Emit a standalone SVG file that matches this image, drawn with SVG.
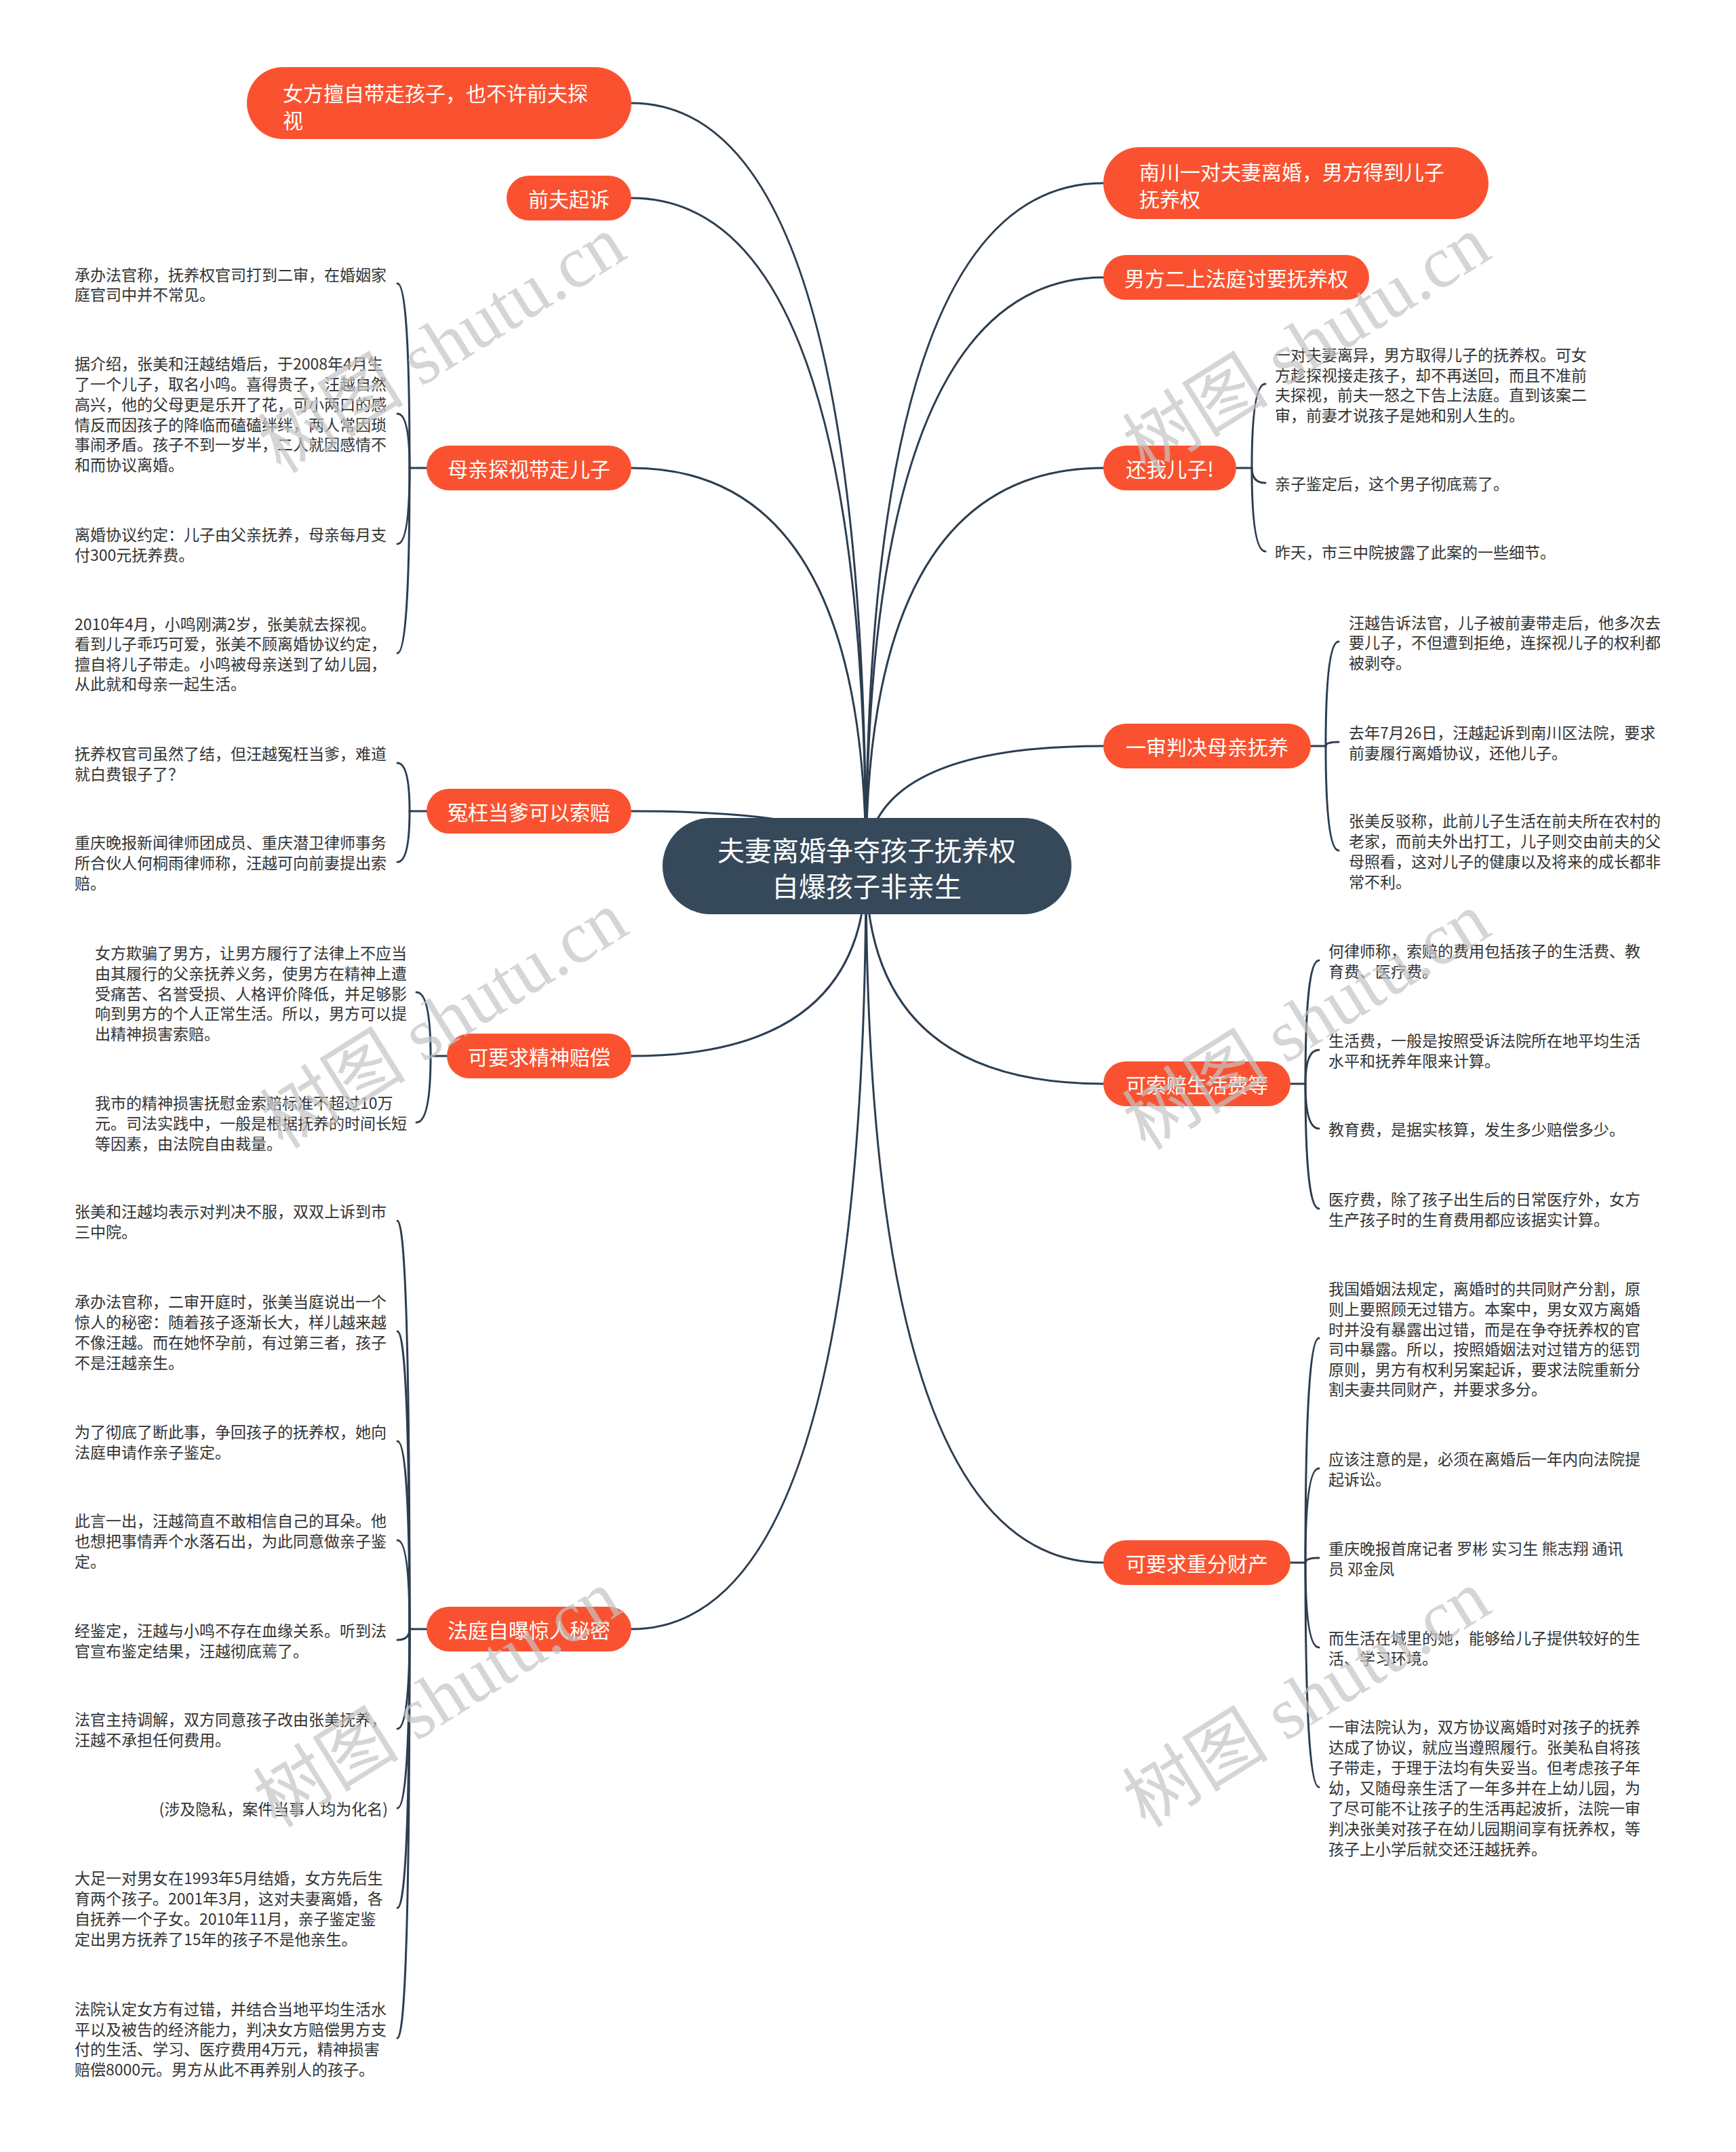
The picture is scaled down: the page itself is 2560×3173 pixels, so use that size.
<svg xmlns="http://www.w3.org/2000/svg" width="2560" height="3173" viewBox="0 0 2560 3173">
<style>
.bg{fill:#ffffff}
.main{fill:#36495a}
.topic{fill:#fa5230}
.mt{font-family:"Noto Sans CJK SC","Noto Sans",sans-serif;font-size:40px;fill:#ffffff;text-anchor:middle;dominant-baseline:central}
.tt{font-family:"Noto Sans CJK SC","Noto Sans",sans-serif;font-size:30px;fill:#ffffff;dominant-baseline:central}
.tc{text-anchor:middle}
.lf{font-family:"Noto Sans CJK SC","Noto Sans",sans-serif;font-size:23px;fill:#333333;dominant-baseline:central}
.ln{fill:none;stroke:#2c3e50;stroke-width:3;stroke-linecap:round}
.wm{font-family:"Liberation Serif","Noto Sans CJK SC",serif;font-size:108px;fill:#c4c4c4;opacity:0.7;text-anchor:middle;dominant-baseline:central}
</style>
<rect class="bg" x="0" y="0" width="2560" height="3173"/>
<g id="connectors">
<path class="ln" d="M1277 1277 Q1277 152 931 152"/>
<path class="ln" d="M1277 1277 Q1277 292 931 292"/>
<path class="ln" d="M1277 1277 Q1277 690 931 690"/>
<path class="ln" d="M1277 1277 Q1277 1196 931 1196"/>
<path class="ln" d="M1277 1277 Q1277 1557 931 1557"/>
<path class="ln" d="M1277 1277 Q1277 2402 931 2402"/>
<path class="ln" d="M1277 1277 Q1277 270 1627 270"/>
<path class="ln" d="M1277 1277 Q1277 409 1627 409"/>
<path class="ln" d="M1277 1277 Q1277 690 1627 690"/>
<path class="ln" d="M1277 1277 Q1277 1100 1627 1100"/>
<path class="ln" d="M1277 1277 Q1277 1598 1627 1598"/>
<path class="ln" d="M1277 1277 Q1277 2304 1627 2304"/>
<!-- L3 braces -->
<path class="ln" d="M629 690 H604"/>
<path class="ln" d="M604 690 Q604 418 586 418"/>
<path class="ln" d="M604 690 Q604 610 586 610"/>
<path class="ln" d="M604 690 Q604 802 586 802"/>
<path class="ln" d="M604 690 Q604 963 586 963"/>
<!-- L4 braces -->
<path class="ln" d="M629 1196 H604"/>
<path class="ln" d="M604 1196 Q604 1125 586 1125"/>
<path class="ln" d="M604 1196 Q604 1271 586 1271"/>
<!-- L5 braces -->
<path class="ln" d="M659 1557 H635"/>
<path class="ln" d="M635 1557 Q635 1463 614 1463"/>
<path class="ln" d="M635 1557 Q635 1655 614 1655"/>
<!-- L6 braces -->
<path class="ln" d="M629 2402 H604"/>
<path class="ln" d="M604 2402 Q604 1800 586 1800"/>
<path class="ln" d="M604 2402 Q604 1963 586 1963"/>
<path class="ln" d="M604 2402 Q604 2125 586 2125"/>
<path class="ln" d="M604 2402 Q604 2271 586 2271"/>
<path class="ln" d="M604 2402 Q604 2418 586 2418"/>
<path class="ln" d="M604 2402 Q604 2549 586 2549"/>
<path class="ln" d="M604 2402 Q604 2666 586 2666"/>
<path class="ln" d="M604 2402 Q604 2813 586 2813"/>
<path class="ln" d="M604 2402 Q604 3005 586 3005"/>
<!-- R3 braces -->
<path class="ln" d="M1823 690 H1846"/>
<path class="ln" d="M1846 690 Q1846 566 1866 566"/>
<path class="ln" d="M1846 690 Q1846 712 1866 712"/>
<path class="ln" d="M1846 690 Q1846 813 1866 813"/>
<!-- R4 braces -->
<path class="ln" d="M1933 1100 H1955"/>
<path class="ln" d="M1955 1100 Q1955 946 1974 946"/>
<path class="ln" d="M1955 1100 Q1955 1094 1974 1094"/>
<path class="ln" d="M1955 1100 Q1955 1254 1974 1254"/>
<!-- R5 braces -->
<path class="ln" d="M1903 1598 H1925"/>
<path class="ln" d="M1925 1598 Q1925 1416 1945 1416"/>
<path class="ln" d="M1925 1598 Q1925 1548 1945 1548"/>
<path class="ln" d="M1925 1598 Q1925 1664 1945 1664"/>
<path class="ln" d="M1925 1598 Q1925 1782 1945 1782"/>
<!-- R6 braces -->
<path class="ln" d="M1903 2304 H1925"/>
<path class="ln" d="M1925 2304 Q1925 1973 1945 1973"/>
<path class="ln" d="M1925 2304 Q1925 2165 1945 2165"/>
<path class="ln" d="M1925 2304 Q1925 2297 1945 2297"/>
<path class="ln" d="M1925 2304 Q1925 2429 1945 2429"/>
<path class="ln" d="M1925 2304 Q1925 2635 1945 2635"/>
</g>
<g id="center">
<rect class="main" x="977" y="1206" width="603" height="142" rx="71"/>
<text class="mt" x="1278"><tspan x="1278" y="1252">夫妻离婚争夺孩子抚养权</tspan><tspan x="1278" y="1305">自爆孩子非亲生</tspan></text>
</g>
<g id="n-l1">
<rect class="topic" x="364" y="99" width="567" height="106" rx="53"/>
<text class="tt"><tspan x="417" y="136">女方擅自带走孩子，也不许前夫探</tspan><tspan x="417" y="176">视</tspan></text>
</g>
<g id="n-l2">
<rect class="topic" x="747" y="259" width="184" height="66" rx="33"/>
<text class="tt tc" x="839" y="292">前夫起诉</text>
</g>
<g id="n-l3">
<rect class="topic" x="629" y="657" width="302" height="66" rx="33"/>
<text class="tt tc" x="780" y="690">母亲探视带走儿子</text>
</g>
<g id="n-l4">
<rect class="topic" x="629" y="1163" width="302" height="66" rx="33"/>
<text class="tt tc" x="780" y="1196">冤枉当爹可以索赔</text>
</g>
<g id="n-l5">
<rect class="topic" x="659" y="1524" width="272" height="66" rx="33"/>
<text class="tt tc" x="795" y="1557">可要求精神赔偿</text>
</g>
<g id="n-l6">
<rect class="topic" x="629" y="2369" width="302" height="66" rx="33"/>
<text class="tt tc" x="780" y="2402">法庭自曝惊人秘密</text>
</g>
<g id="n-r1">
<rect class="topic" x="1627" y="217" width="568" height="106" rx="53"/>
<text class="tt"><tspan x="1680" y="252">南川一对夫妻离婚，男方得到儿子</tspan><tspan x="1680" y="292">抚养权</tspan></text>
</g>
<g id="n-r2">
<rect class="topic" x="1627" y="376" width="392" height="66" rx="33"/>
<text class="tt tc" x="1823" y="409">男方二上法庭讨要抚养权</text>
</g>
<g id="n-r3">
<rect class="topic" x="1627" y="657" width="196" height="66" rx="33"/>
<text class="tt tc" x="1725" y="690">还我儿子!</text>
</g>
<g id="n-r4">
<rect class="topic" x="1627" y="1067" width="306" height="66" rx="33"/>
<text class="tt tc" x="1780" y="1100">一审判决母亲抚养</text>
</g>
<g id="n-r5">
<rect class="topic" x="1627" y="1565" width="276" height="66" rx="33"/>
<text class="tt tc" x="1765" y="1598">可索赔生活费等</text>
</g>
<g id="n-r6">
<rect class="topic" x="1627" y="2271" width="276" height="66" rx="33"/>
<text class="tt tc" x="1765" y="2304">可要求重分财产</text>
</g>
<g id="leaves-l3">
<text class="lf"><tspan x="110" y="404">承办法官称，抚养权官司打到二审，在婚姻家</tspan><tspan x="110" y="433">庭官司中并不常见。</tspan></text>
<text class="lf"><tspan x="110" y="535">据介绍，张美和汪越结婚后，于2008年4月生</tspan><tspan x="110" y="565">了一个儿子，取名小鸣。喜得贵子，汪越自然</tspan><tspan x="110" y="595">高兴，他的父母更是乐开了花，可小两口的感</tspan><tspan x="110" y="625">情反而因孩子的降临而磕磕绊绊，两人常因琐</tspan><tspan x="110" y="654">事闹矛盾。孩子不到一岁半，二人就因感情不</tspan><tspan x="110" y="684">和而协议离婚。</tspan></text>
<text class="lf"><tspan x="110" y="787">离婚协议约定：儿子由父亲抚养，母亲每月支</tspan><tspan x="110" y="817">付300元抚养费。</tspan></text>
<text class="lf"><tspan x="110" y="919">2010年4月，小鸣刚满2岁，张美就去探视。</tspan><tspan x="110" y="948">看到儿子乖巧可爱，张美不顾离婚协议约定，</tspan><tspan x="110" y="978">擅自将儿子带走。小鸣被母亲送到了幼儿园，</tspan><tspan x="110" y="1007">从此就和母亲一起生活。</tspan></text>
</g>
<g id="leaves-l4">
<text class="lf"><tspan x="110" y="1110">抚养权官司虽然了结，但汪越冤枉当爹，难道</tspan><tspan x="110" y="1140">就白费银子了？</tspan></text>
<text class="lf"><tspan x="110" y="1241">重庆晚报新闻律师团成员、重庆潜卫律师事务</tspan><tspan x="110" y="1271">所合伙人何桐雨律师称，汪越可向前妻提出索</tspan><tspan x="110" y="1301">赔。</tspan></text>
</g>
<g id="leaves-l5">
<text class="lf"><tspan x="140" y="1404">女方欺骗了男方，让男方履行了法律上不应当</tspan><tspan x="140" y="1434">由其履行的父亲抚养义务，使男方在精神上遭</tspan><tspan x="140" y="1464">受痛苦、名誉受损、人格评价降低，并足够影</tspan><tspan x="140" y="1493">响到男方的个人正常生活。所以，男方可以提</tspan><tspan x="140" y="1523">出精神损害索赔。</tspan></text>
<text class="lf"><tspan x="140" y="1625">我市的精神损害抚慰金索赔标准不超过10万</tspan><tspan x="140" y="1655">元。司法实践中，一般是根据抚养的时间长短</tspan><tspan x="140" y="1685">等因素，由法院自由裁量。</tspan></text>
</g>
<g id="leaves-l6">
<text class="lf"><tspan x="110" y="1785">张美和汪越均表示对判决不服，双双上诉到市</tspan><tspan x="110" y="1815">三中院。</tspan></text>
<text class="lf"><tspan x="110" y="1918">承办法官称，二审开庭时，张美当庭说出一个</tspan><tspan x="110" y="1948">惊人的秘密：随着孩子逐渐长大，样儿越来越</tspan><tspan x="110" y="1978">不像汪越。而在她怀孕前，有过第三者，孩子</tspan><tspan x="110" y="2008">不是汪越亲生。</tspan></text>
<text class="lf"><tspan x="110" y="2110">为了彻底了断此事，争回孩子的抚养权，她向</tspan><tspan x="110" y="2140">法庭申请作亲子鉴定。</tspan></text>
<text class="lf"><tspan x="110" y="2241">此言一出，汪越简直不敢相信自己的耳朵。他</tspan><tspan x="110" y="2271">也想把事情弄个水落石出，为此同意做亲子鉴</tspan><tspan x="110" y="2301">定。</tspan></text>
<text class="lf"><tspan x="110" y="2403">经鉴定，汪越与小鸣不存在血缘关系。听到法</tspan><tspan x="110" y="2433">官宣布鉴定结果，汪越彻底蔫了。</tspan></text>
<text class="lf"><tspan x="110" y="2534">法官主持调解，双方同意孩子改由张美抚养，</tspan><tspan x="110" y="2564">汪越不承担任何费用。</tspan></text>
<text class="lf" x="572" y="2666" text-anchor="end">(涉及隐私，案件当事人均为化名)</text>
<text class="lf"><tspan x="110" y="2768">大足一对男女在1993年5月结婚，女方先后生</tspan><tspan x="110" y="2798">育两个孩子。2001年3月，这对夫妻离婚，各</tspan><tspan x="110" y="2828">自抚养一个子女。2010年11月，亲子鉴定鉴</tspan><tspan x="110" y="2858">定出男方抚养了15年的孩子不是他亲生。</tspan></text>
<text class="lf"><tspan x="110" y="2961">法院认定女方有过错，并结合当地平均生活水</tspan><tspan x="110" y="2991">平以及被告的经济能力，判决女方赔偿男方支</tspan><tspan x="110" y="3020">付的生活、学习、医疗费用4万元，精神损害</tspan><tspan x="110" y="3050">赔偿8000元。男方从此不再养别人的孩子。</tspan></text>
</g>
<g id="leaves-r3">
<text class="lf"><tspan x="1880" y="522">一对夫妻离异，男方取得儿子的抚养权。可女</tspan><tspan x="1880" y="552">方趁探视接走孩子，却不再送回，而且不准前</tspan><tspan x="1880" y="581">夫探视，前夫一怒之下告上法庭。直到该案二</tspan><tspan x="1880" y="611">审，前妻才说孩子是她和别人生的。</tspan></text>
<text class="lf" x="1880" y="712">亲子鉴定后，这个男子彻底蔫了。</text>
<text class="lf" x="1880" y="813">昨天，市三中院披露了此案的一些细节。</text>
</g>
<g id="leaves-r4">
<text class="lf"><tspan x="1989" y="917">汪越告诉法官，儿子被前妻带走后，他多次去</tspan><tspan x="1989" y="946">要儿子，不但遭到拒绝，连探视儿子的权利都</tspan><tspan x="1989" y="976">被剥夺。</tspan></text>
<text class="lf"><tspan x="1989" y="1079">去年7月26日，汪越起诉到南川区法院，要求</tspan><tspan x="1989" y="1109">前妻履行离婚协议，还他儿子。</tspan></text>
<text class="lf"><tspan x="1989" y="1209">张美反驳称，此前儿子生活在前夫所在农村的</tspan><tspan x="1989" y="1239">老家，而前夫外出打工，儿子则交由前夫的父</tspan><tspan x="1989" y="1269">母照看，这对儿子的健康以及将来的成长都非</tspan><tspan x="1989" y="1299">常不利。</tspan></text>
</g>
<g id="leaves-r5">
<text class="lf"><tspan x="1959" y="1401">何律师称，索赔的费用包括孩子的生活费、教</tspan><tspan x="1959" y="1431">育费、医疗费。</tspan></text>
<text class="lf"><tspan x="1959" y="1533">生活费，一般是按照受诉法院所在地平均生活</tspan><tspan x="1959" y="1563">水平和抚养年限来计算。</tspan></text>
<text class="lf" x="1959" y="1664">教育费，是据实核算，发生多少赔偿多少。</text>
<text class="lf"><tspan x="1959" y="1767">医疗费，除了孩子出生后的日常医疗外，女方</tspan><tspan x="1959" y="1797">生产孩子时的生育费用都应该据实计算。</tspan></text>
</g>
<g id="leaves-r6">
<text class="lf"><tspan x="1959" y="1899">我国婚姻法规定，离婚时的共同财产分割，原</tspan><tspan x="1959" y="1929">则上要照顾无过错方。本案中，男女双方离婚</tspan><tspan x="1959" y="1959">时并没有暴露出过错，而是在争夺抚养权的官</tspan><tspan x="1959" y="1988">司中暴露。所以，按照婚姻法对过错方的惩罚</tspan><tspan x="1959" y="2018">原则，男方有权利另案起诉，要求法院重新分</tspan><tspan x="1959" y="2047">割夫妻共同财产，并要求多分。</tspan></text>
<text class="lf"><tspan x="1959" y="2150">应该注意的是，必须在离婚后一年内向法院提</tspan><tspan x="1959" y="2180">起诉讼。</tspan></text>
<text class="lf"><tspan x="1959" y="2282">重庆晚报首席记者 罗彬 实习生 熊志翔 通讯</tspan><tspan x="1959" y="2312">员 邓金凤</tspan></text>
<text class="lf"><tspan x="1959" y="2414">而生活在城里的她，能够给儿子提供较好的生</tspan><tspan x="1959" y="2444">活、学习环境。</tspan></text>
<text class="lf"><tspan x="1959" y="2545">一审法院认为，双方协议离婚时对孩子的抚养</tspan><tspan x="1959" y="2575">达成了协议，就应当遵照履行。张美私自将孩</tspan><tspan x="1959" y="2605">子带走，于理于法均有失妥当。但考虑孩子年</tspan><tspan x="1959" y="2635">幼，又随母亲生活了一年多并在上幼儿园，为</tspan><tspan x="1959" y="2665">了尽可能不让孩子的生活再起波折，法院一审</tspan><tspan x="1959" y="2695">判决张美对孩子在幼儿园期间享有抚养权，等</tspan><tspan x="1959" y="2725">孩子上小学后就交还汪越抚养。</tspan></text>
</g>
<g id="watermarks">
<text class="wm" transform="translate(652 508) rotate(-32)">树图 shutu.cn</text>
<text class="wm" transform="translate(1927 508) rotate(-32)">树图 shutu.cn</text>
<text class="wm" transform="translate(655 1504) rotate(-32)">树图 shutu.cn</text>
<text class="wm" transform="translate(1927 1506) rotate(-32)">树图 shutu.cn</text>
<text class="wm" transform="translate(645 2505) rotate(-32)">树图 shutu.cn</text>
<text class="wm" transform="translate(1927 2505) rotate(-32)">树图 shutu.cn</text>
</g>
</svg>
